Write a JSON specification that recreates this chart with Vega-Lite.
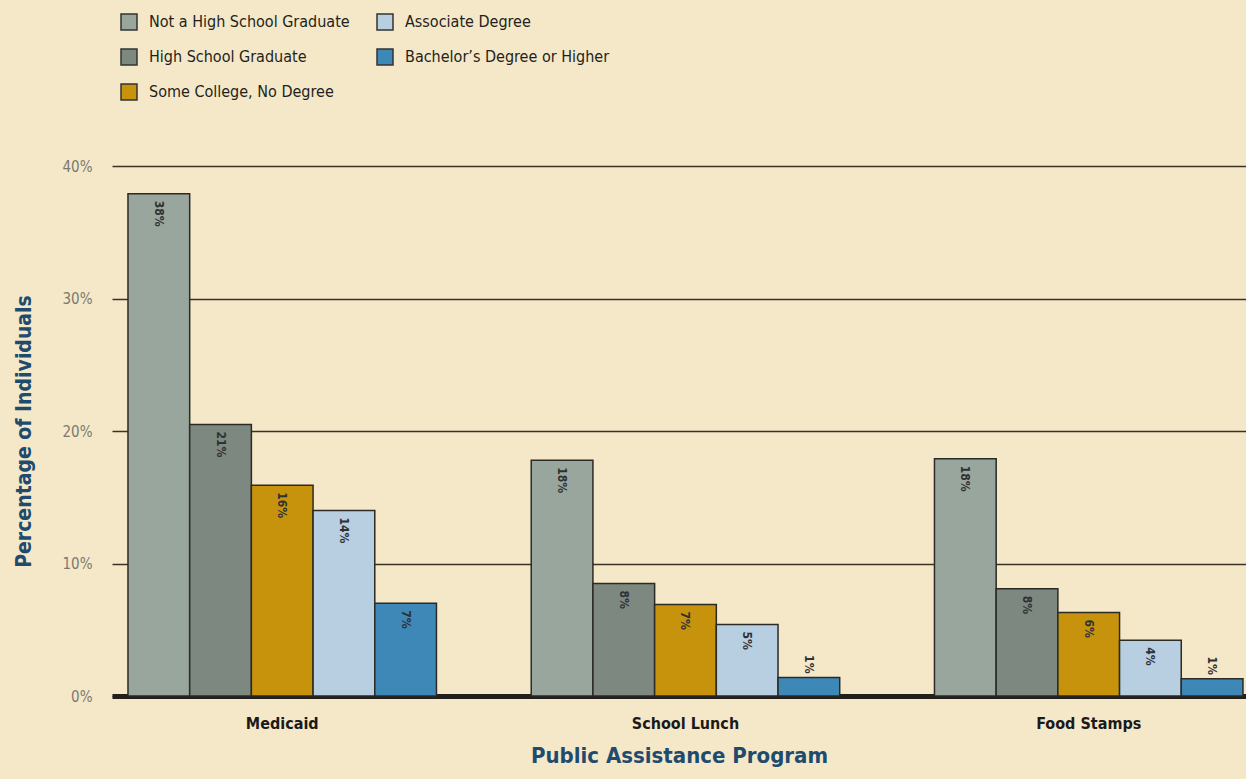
{
  "$schema": "https://vega.github.io/schema/vega-lite/v6.json",
  "width": 1134,
  "height": 530,
  "autosize": {"type": "none"},
  "padding": {"left": 112, "top": 166, "right": 0, "bottom": 83},
  "background": "#f5e8c8",
  "config": {
    "view": {"stroke": null},
    "font": "Liberation Sans Narrow, DejaVu Sans Condensed, sans-serif"
  },
  "data": {
    "values": [
      {"program": "Medicaid", "education": "Not a High School Graduate", "value": 37.9, "label": "38%"},
      {"program": "Medicaid", "education": "High School Graduate", "value": 20.5, "label": "21%"},
      {"program": "Medicaid", "education": "Some College, No Degree", "value": 15.9, "label": "16%"},
      {"program": "Medicaid", "education": "Associate Degree", "value": 14.0, "label": "14%"},
      {"program": "Medicaid", "education": "Bachelor’s Degree or Higher", "value": 7.0, "label": "7%"},
      {"program": "School Lunch", "education": "Not a High School Graduate", "value": 17.8, "label": "18%"},
      {"program": "School Lunch", "education": "High School Graduate", "value": 8.5, "label": "8%"},
      {"program": "School Lunch", "education": "Some College, No Degree", "value": 6.9, "label": "7%"},
      {"program": "School Lunch", "education": "Associate Degree", "value": 5.4, "label": "5%"},
      {"program": "School Lunch", "education": "Bachelor’s Degree or Higher", "value": 1.4, "label": "1%"},
      {"program": "Food Stamps", "education": "Not a High School Graduate", "value": 17.9, "label": "18%"},
      {"program": "Food Stamps", "education": "High School Graduate", "value": 8.1, "label": "8%"},
      {"program": "Food Stamps", "education": "Some College, No Degree", "value": 6.3, "label": "6%"},
      {"program": "Food Stamps", "education": "Associate Degree", "value": 4.2, "label": "4%"},
      {"program": "Food Stamps", "education": "Bachelor’s Degree or Higher", "value": 1.3, "label": "1%"}
    ]
  },
  "encoding": {
    "x": {
      "field": "program",
      "type": "nominal",
      "sort": ["Medicaid", "School Lunch", "Food Stamps"],
      "scale": {"paddingInner": 0.235, "paddingOuter": 0.0236, "align": 0.84},
      "axis": {
        "title": "Public Assistance Program",
        "labelAngle": 0,
        "labelFontSize": 16,
        "labelFontWeight": "bold",
        "labelColor": "#1a1a1a",
        "labelPadding": 19,
        "ticks": false,
        "domainWidth": 5,
        "domainColor": "#231f1a",
        "titleFontSize": 22,
        "titleFontWeight": "bold",
        "titleColor": "#1f4b6e",
        "titlePadding": 14
      }
    },
    "xOffset": {
      "field": "education",
      "type": "nominal",
      "sort": ["Not a High School Graduate", "High School Graduate", "Some College, No Degree", "Associate Degree", "Bachelor’s Degree or Higher"],
      "scale": {"paddingInner": 0, "paddingOuter": 0}
    },
    "y": {
      "field": "value",
      "type": "quantitative",
      "scale": {"domain": [0, 40], "nice": false},
      "axis": {
        "title": "Percentage of Individuals",
        "titleFontSize": 21,
        "titleFontWeight": "bold",
        "titleColor": "#1f4b6e",
        "titlePadding": 28,
        "values": [0, 10, 20, 30, 40],
        "labelExpr": "datum.value + '%'",
        "labelFontSize": 15,
        "labelColor": "#7a7a72",
        "labelPadding": 20,
        "ticks": false,
        "domain": false,
        "grid": true,
        "gridColor": "#3a3325",
        "gridWidth": 1.5
      }
    }
  },
  "layer": [
    {
      "mark": {"type": "bar", "stroke": "#2b2a24", "strokeWidth": 1.5},
      "encoding": {
        "color": {
          "field": "education",
          "type": "nominal",
          "scale": {
            "domain": ["Not a High School Graduate", "High School Graduate", "Some College, No Degree", "Associate Degree", "Bachelor’s Degree or Higher"],
            "range": ["#98a69e", "#7c8880", "#c8930c", "#b8cfe2", "#3e88b8"]
          },
          "legend": {
            "title": null,
            "orient": "none",
            "legendX": 8,
            "legendY": -153,
            "columns": 2,
            "symbolType": "square",
            "symbolSize": 256,
            "symbolStrokeColor": "#333333",
            "symbolStrokeWidth": 1.5,
            "symbolOpacity": 1,
            "labelFontSize": 16,
            "labelLimit": 400,
            "labelColor": "#231f20",
            "labelOffset": 11,
            "rowPadding": 13,
            "columnPadding": 24
          }
        }
      }
    },
    {
      "transform": [{"filter": "datum.value >= 3"}],
      "mark": {"type": "text", "angle": 90, "align": "left", "baseline": "middle", "dx": 7, "fontSize": 12, "fontWeight": "bold", "color": "#2e3134"},
      "encoding": {"text": {"field": "label"}}
    },
    {
      "transform": [{"filter": "datum.value < 3"}],
      "mark": {"type": "text", "angle": 90, "align": "right", "baseline": "middle", "dx": -4, "fontSize": 12, "fontWeight": "bold", "color": "#2e3134"},
      "encoding": {"text": {"field": "label"}}
    }
  ]
}
